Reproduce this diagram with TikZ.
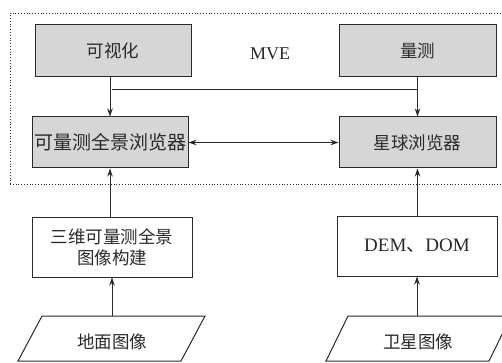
\documentclass[tikz,border=0pt]{standalone}
\usepackage{fontspec}
\setmainfont{Liberation Serif}
\newfontfamily\cjk{Noto Sans CJK SC}
\usetikzlibrary{arrows.meta}
\definecolor{boxgray}{HTML}{D6D6D6}
\definecolor{ink}{HTML}{2A2A2A}
\tikzset{
  x=1pt,y=-1pt,
  graybox/.style={draw=ink,line width=1pt,fill=boxgray,minimum width=156pt,minimum height=52pt,inner sep=0pt,font=\cjk\fontsize{17.5}{20}\selectfont,text=ink},
  whitebox/.style={draw=ink,line width=1pt,fill=white,minimum width=160pt,minimum height=60pt,inner sep=0pt,align=center,font=\cjk\fontsize{17.5}{21}\selectfont,text=ink},
  conn/.style={draw=ink,line width=1pt},
  arr/.style={conn,-{Stealth[length=8pt,width=5.5pt]}},
  darr/.style={conn,{Stealth[length=8pt,width=5.5pt]}-{Stealth[length=8pt,width=5.5pt]}},
  lbl/.style={font=\cjk\fontsize{17.5}{20}\selectfont,text=ink,inner sep=0pt}
}
\begin{document}
\begin{tikzpicture}
\clip (0,0) rectangle (502,363);
\fill[white] (0,0) rectangle (502,363);
% dotted frame
\draw[ink,dotted,line width=0.8pt] (10,184) -- (10,13) -- (510,13);
\draw[ink,dotted,line width=0.8pt] (10,184) -- (510,184);
\node[font=\fontsize{18}{20}\selectfont,text=ink] (mve) at (270,54) {MVE};
% boxes
\node[graybox] (vis) at (113,51) {可视化};
\node[graybox,minimum width=157pt] (meas) at (417.5,51) {量测};
\node[graybox,minimum height=51pt,font=\cjk\fontsize{19}{20}\selectfont] (pano) at (110,142.5) {可量测全景浏览器};
\node[graybox,minimum width=157pt,minimum height=51pt] (globe) at (417.5,142.5) {星球浏览器};
\node[whitebox] (sanwei) at (112,247) {三维可量测全景\\图像构建};
\node[whitebox,font=\fontsize{19}{21}\selectfont] (dem) at (417,246) {DEM{\cjk 、}DOM};
% parallelograms
\draw[ink,line width=1pt,fill=white] (42,316) -- (205,316) -- (181,361) -- (18,361) -- cycle;
\node[lbl] (ground) at (112,342) {地面图像};
\coordinate (gtop) at (112,316);
\draw[ink,line width=1pt,fill=white] (348,316) -- (511,316) -- (489,361) -- (326,361) -- cycle;
\node[lbl] (sat) at (418,342) {卫星图像};
\coordinate (stop) at (417,316);
% connectors
\draw[arr] (vis.south -| pano.north) -- (pano.north);
\draw[arr] (meas.south -| globe.north) -- (globe.north);
\coordinate (hl) at (112,90);
\coordinate (hr) at (417.5,90);
\draw[conn] (hl) -- (hr);
\draw[darr] (pano.east) -- (globe.west);
\draw[arr] (sanwei.north -| pano.south) -- (pano.south);
\draw[arr] (dem.north -| globe.south) -- (globe.south);
\draw[arr] (gtop) -- (sanwei.south);
\draw[arr] (stop) -- (dem.south -| stop);
\end{tikzpicture}
\end{document}
